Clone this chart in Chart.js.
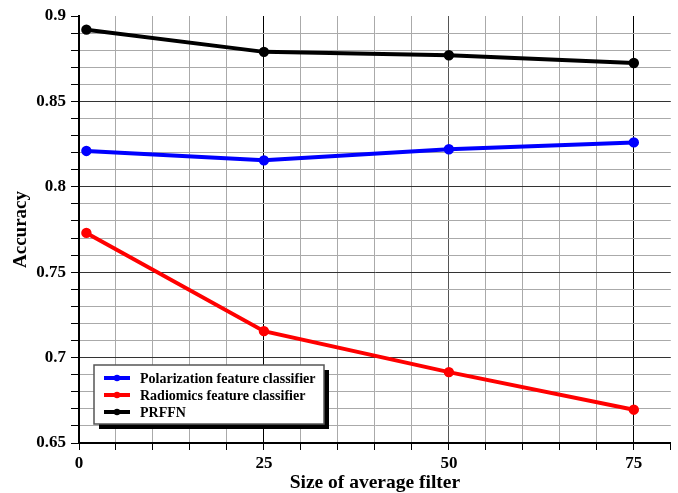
<!DOCTYPE html>
<html>
<head>
<meta charset="utf-8">
<script src="https://cdn.jsdelivr.net/npm/chart.js@4"></script>
<style>
  html, body { margin: 0; padding: 0; background: #fff; }
  #wrap { width: 678px; height: 493px; }
</style>
</head>
<body>
<div id="wrap"><canvas id="chart" width="678" height="493"></canvas></div>
<script>
// filter sizes on the x axis
const filterSizes = [1, 25, 50, 75]
// accuracy
const polarization = [0.821, 0.8155, 0.822, 0.826]
const radiomics = [0.773, 0.7155, 0.6915, 0.6695]
const prffn = [0.892, 0.879, 0.877, 0.8725]
const seriesNames = ['Polarization feature classifier', 'Radiomics feature classifier', 'PRFFN']
const seriesColors = ['#0000ff', '#ff0000', '#000000']

const serif = '"Liberation Serif", "Times New Roman", serif'

const toPoints = (ys) => filterSizes.map((x, i) => ({x: x, y: ys[i]}))

const makeDataset = (label, ys, color) => {
    return {
        label: label,
        data: toPoints(ys),
        borderColor: color,
        backgroundColor: color,
        borderWidth: 4,
        pointRadius: 3.2,
        pointHoverRadius: 3.2,
        fill: false,
        tension: 0
    }
}

// legend box drawn inside the plot, with a drop shadow
const boxLegend = {
    id: 'boxLegend',
    afterDraw(chart) {
        const ctx = chart.ctx
        const x = 94, y = 365, w = 230, h = 59
        ctx.save()
        ctx.fillStyle = '#000'
        ctx.fillRect(x + 5, y + 5, w, h)
        ctx.fillStyle = '#fff'
        ctx.fillRect(x, y, w, h)
        ctx.strokeStyle = '#555'
        ctx.lineWidth = 1.5
        ctx.strokeRect(x, y, w, h)
        ctx.font = 'bold 14px ' + serif
        ctx.textBaseline = 'middle'
        chart.data.datasets.forEach((ds, i) => {
            const ly = y + 13 + i * 17
            ctx.strokeStyle = ds.borderColor
            ctx.lineWidth = 4
            ctx.beginPath()
            ctx.moveTo(104, ly)
            ctx.lineTo(130, ly)
            ctx.stroke()
            ctx.fillStyle = ds.borderColor
            ctx.beginPath()
            ctx.arc(117, ly, 3.2, 0, Math.PI * 2)
            ctx.fill()
            ctx.fillStyle = '#000'
            ctx.fillText(ds.label, 140, ly + 1)
        })
        ctx.restore()
    }
}

const isMajorX = (v) => Math.round(v) % 25 === 0
const isMajorY = (v) => Math.round(v * 100) % 5 === 0

const config = {
    type: 'line',
    data: {
        datasets: [
            makeDataset(seriesNames[0], polarization, seriesColors[0]),
            makeDataset(seriesNames[1], radiomics, seriesColors[1]),
            makeDataset(seriesNames[2], prffn, seriesColors[2])
        ]
    },
    options: {
        responsive: false,
        animation: false,
        layout: {padding: {top: 16, right: 7, left: 0, bottom: 0}},
        plugins: {
            legend: {display: false},
            tooltip: {enabled: false}
        },
        scales: {
            x: {
                type: 'linear',
                min: 0,
                max: 80,
                afterFit: (s) => { s.height = 50 },
                afterBuildTicks: (s) => {
                    s.ticks = []
                    for (let v = 0; v <= 80; v += 5) s.ticks.push({value: v})
                },
                ticks: {
                    autoSkip: false,
                    maxRotation: 0,
                    color: '#000',
                    padding: 3,
                    font: {family: serif, size: 17, weight: 'bold'},
                    callback: (v) => (isMajorX(v) && v <= 75) ? String(v) : ''
                },
                grid: {
                    color: (c) => {
                        const v = c.tick.value
                        if (v === 0 || v === 80) return 'rgba(0,0,0,0)'
                        if (v === 50) return '#555'
                        return isMajorX(v) ? '#000' : '#aaa'
                    },
                    lineWidth: 1,
                    tickColor: '#000',
                    tickLength: 7
                },
                border: {color: '#000', width: 2},
                title: {
                    display: true,
                    text: 'Size of average filter',
                    color: '#000',
                    padding: {top: 0, bottom: 0},
                    font: {family: serif, size: 19.5, weight: 'bold', lineHeight: 1}
                }
            },
            y: {
                min: 0.65,
                max: 0.9,
                afterFit: (s) => { s.width = 79 },
                afterBuildTicks: (s) => {
                    s.ticks = []
                    for (let k = 65; k <= 90; k++) s.ticks.push({value: k / 100})
                },
                ticks: {
                    autoSkip: false,
                    color: '#000',
                    padding: 5,
                    font: {family: serif, size: 17, weight: 'bold'},
                    callback: (v) => isMajorY(v) ? String(Math.round(v * 100) / 100) : ''
                },
                grid: {
                    color: (c) => {
                        const v = c.tick.value
                        if (Math.round(v * 100) === 65 || Math.round(v * 100) === 90) return 'rgba(0,0,0,0)'
                        return isMajorY(v) ? '#333' : '#aaa'
                    },
                    lineWidth: 1,
                    tickColor: '#000',
                    tickLength: 8
                },
                border: {color: '#000', width: 2},
                title: {
                    display: true,
                    text: 'Accuracy',
                    color: '#000',
                    padding: {top: 10, bottom: 0},
                    font: {family: serif, size: 19, weight: 'bold'}
                }
            }
        }
    },
    plugins: [boxLegend]
}

new Chart(document.getElementById('chart').getContext('2d'), config)
</script>
</body>
</html>
